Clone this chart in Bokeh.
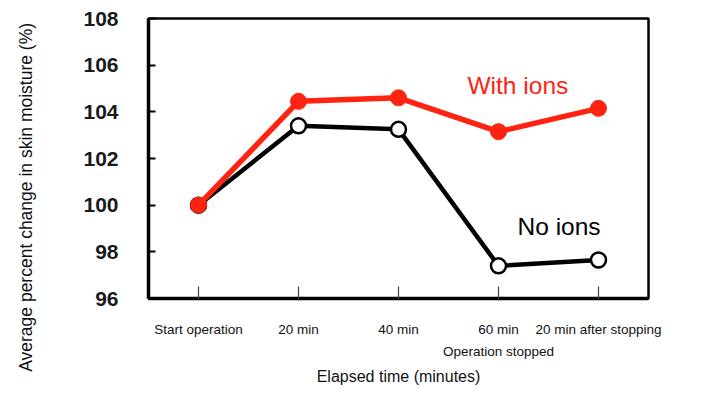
from bokeh.plotting import figure
from bokeh.models import FactorRange, Label, FixedTicker
from bokeh.embed import file_html
from bokeh.resources import INLINE

categories = ["Start operation", "20 min", "40 min", "60 min\nOperation stopped", "20 min after stopping"]
with_ions = [100.0, 104.45, 104.6, 103.15, 104.15]
no_ions = [100.0, 103.4, 103.25, 97.4, 97.65]
y_ticks = [96, 98, 100, 102, 104, 106, 108]

RED = "#ff2412"
FONT = "Liberation Sans"

p = figure(width=702, height=389, output_backend="svg", toolbar_location=None,
           x_range=FactorRange(factors=categories, range_padding=0),
           y_range=(96, 108),
           min_border_left=148, min_border_top=18, min_border_right=54, min_border_bottom=91)

p.grid.visible = False
p.background_fill_color = "white"
p.border_fill_color = "white"
p.outline_line_color = "black"
p.outline_line_width = 2.5

# black series
p.line(categories, no_ions, line_color="black", line_width=4.5)
p.scatter(categories, no_ions, size=15, fill_color="white", line_color="black", line_width=2.5)
# red series
p.line(categories, with_ions, line_color=RED, line_width=5.5)
p.scatter(categories, with_ions, size=16, fill_color=RED, line_color=RED)

# y axis
ya = p.yaxis[0]
ya.ticker = FixedTicker(ticks=y_ticks)
ya.axis_line_width = 3.5
ya.major_tick_in = 7
ya.major_tick_out = 0
ya.major_tick_line_width = 2
ya.minor_tick_line_color = None
ya.major_label_text_font = FONT
ya.major_label_text_font_style = "bold"
ya.major_label_text_font_size = "21px"
ya.major_label_text_color = "#1a1a1a"
ya.major_label_standoff = 30
# trailing no-break spaces shift the centred title downward, as in the reference
ya.axis_label = "Average percent change in skin moisture (%)" + "\u00a0" * 16
ya.axis_label_text_font = FONT
ya.axis_label_text_font_style = "normal"
ya.axis_label_text_font_size = "17.5px"
ya.axis_label_text_color = "#111111"
ya.axis_label_standoff = 44

# x axis
xa = p.xaxis[0]
xa.axis_line_width = 3.5
xa.major_tick_in = 12
xa.major_tick_out = 0
xa.major_tick_line_width = 1.2
xa.major_tick_line_color = "#444444"
xa.major_label_text_font = FONT
xa.major_label_text_font_size = "13.5px"
xa.major_label_text_line_height = 1.5
xa.major_label_text_color = "#111111"
xa.major_label_standoff = 23
xa.major_label_orientation = "horizontal"
xa.axis_label = "Elapsed time (minutes)"
xa.axis_label_text_font = FONT
xa.axis_label_text_font_style = "normal"
xa.axis_label_text_font_size = "16px"
xa.axis_label_text_color = "#111111"
xa.axis_label_standoff = 6

# series labels
p.add_layout(Label(x=3.19, y=105.13, text="With ions", text_align="left", text_baseline="middle",
                   text_font=FONT, text_font_size="24.5px", text_color=RED))
p.add_layout(Label(x=3.69, y=99.08, text="No ions", text_align="left", text_baseline="middle",
                   text_font=FONT, text_font_size="24.5px", text_color="black"))

open("out.html", "w").write(file_html(p, INLINE))
